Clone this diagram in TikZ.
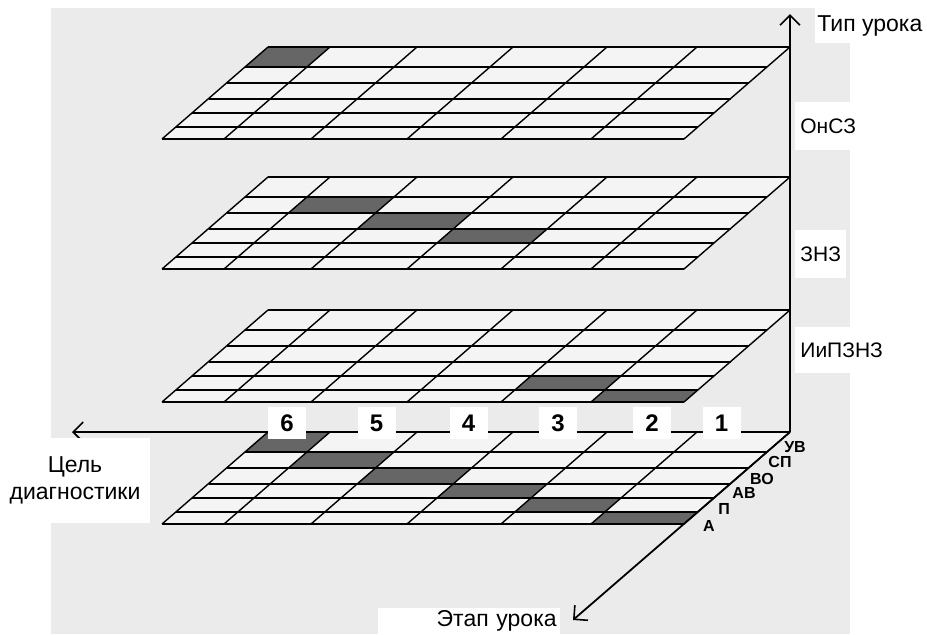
\documentclass[tikz,border=0pt]{standalone}
\usepackage{fontspec}
\setmainfont{Liberation Sans}
\usetikzlibrary{arrows.meta}
\definecolor{planeBg}{HTML}{EBEBEB}
\definecolor{cellFill}{HTML}{F4F4F4}
\definecolor{cellMark}{HTML}{666666}

\begin{document}
\begin{tikzpicture}[x=0.5pt, y=-0.5pt,
    hline/.style={line width=1pt},
    sline/.style={line width=0.7pt},
    axis/.style={line width=0.9pt, -{Straight Barb[length=5pt, width=10pt, line width=0.8pt]}},
    numbox/.style={fill=white, font=\fontsize{12}{14}\selectfont\bfseries, minimum width=19pt, minimum height=16pt, inner sep=0pt},
    rowlbl/.style={font=\fontsize{8}{9}\selectfont\bfseries, inner sep=0pt},
    axlbl/.style={fill=white, font=\fontsize{11.5}{13.5}\selectfont, inner sep=0pt},
    planelbl/.style={axlbl, font=\fontsize{10.5}{12}\selectfont, anchor=west, inner xsep=2.5pt}]
  \useasboundingbox (0,0) rectangle (927,634);
  \fill[white] (0,0) rectangle (927,634);
  \fill[planeBg] (51,8) rectangle (850,634);
  % row depths and column offsets of one plane
  \def\rowf{{0,.22,.39,.56,.72,.865,1}}
  \def\colx{{0,62,149,245,339,429,522}}
  % Helper: plane with back edge at y=#1, dark cells #2 (row/col)
  \def\plane#1#2{%
    \begin{scope}[shift={(268,#1)}]
      \fill[cellFill] (0,0) -- (522,0) -- (416,92) -- (-106,92) -- cycle;
      \foreach \rw/\cl in {#2} {
        \pgfmathsetmacro\fa{\rowf[\rw]}
        \pgfmathsetmacro\fb{\rowf[\rw+1]}
        \pgfmathsetmacro\ca{\colx[\cl]}
        \pgfmathsetmacro\cb{\colx[\cl+1]}
        \fill[cellMark] ({\ca-106*\fa},{92*\fa}) -- ({\cb-106*\fa},{92*\fa})
          -- ({\cb-106*\fb},{92*\fb}) -- ({\ca-106*\fb},{92*\fb}) -- cycle;
      }
      \foreach \f in {0,.22,.39,.56,.72,.865,1}
        \draw[hline] ({-106*\f},{92*\f}) -- ++(522,0);
      \foreach \cx in {0,62,149,245,339,429,522}
        \draw[sline] (\cx,0) -- ++(-106,92);
    \end{scope}}
  % Planes, top to bottom
  \plane{47}{0/0}
  \plane{177}{1/1, 2/2, 3/3}
  \plane{310}{4/4, 5/5}
  \plane{432}{0/0, 1/1, 2/2, 3/3, 4/4, 5/5}
  % Axes
  \coordinate (orig) at (790,432);
  \coordinate (typeEnd) at (790,14);
  \coordinate (goalEnd) at (72,432);
  \coordinate (stageEnd) at (573,620);
  \draw[axis] (orig) -- (typeEnd);
  \draw[axis] (orig) -- (goalEnd);
  \draw[axis] (orig) -- (stageEnd);
  % Column numbers
  \foreach \n/\px in {6/287, 5/376.5, 4/468.5, 3/558, 2/652, 1/721.5}
    \node[numbox] (num\n) at (\px,423) {\n};
  % Row names along the stage axis
  \foreach \nm/\px/\py [count=\i] in {УВ/795/447, СП/780/462, ВО/762/479, АВ/744/493, П/724/509, А/709/526}
    \node[rowlbl] (row\i) at (\px,\py) {\nm};
  % Axis and plane labels
  \node[axlbl, anchor=west, minimum height=17.5pt, inner xsep=1pt] (typeLbl) at (815,25.5) {Тип урока};
  \node[planelbl, minimum height=24pt] (onsz) at (795,126) {ОнСЗ};
  \node[planelbl, minimum height=24pt] (znz) at (795,254) {ЗНЗ};
  \node[planelbl, minimum height=23pt] (ipznz) at (795,350) {ИиПЗНЗ};
  \node[axlbl, align=center, minimum width=75pt, minimum height=42.5pt] (goalLbl) at (75,480.5) {Цель\\диагностики};
  \node[axlbl, anchor=east, minimum height=13pt, text width=88pt, align=right, inner xsep=1.5pt] (stageLbl) at (560,621) {Этап урока};
\end{tikzpicture}
\end{document}
